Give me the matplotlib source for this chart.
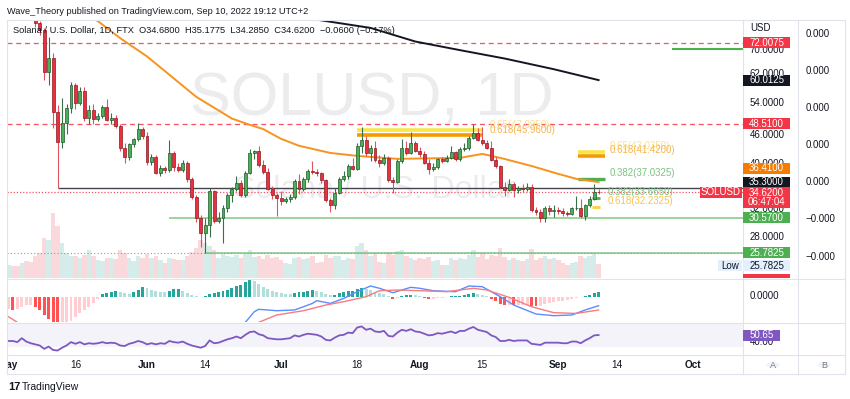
import numpy as np
import pandas as pd
import matplotlib
matplotlib.use("Agg")
import matplotlib.pyplot as plt
import matplotlib.dates as mdates
from matplotlib.patches import Rectangle, Circle
from matplotlib.transforms import Bbox, TransformedBbox

plt.rcParams['font.family'] = ['Liberation Sans', 'DejaVu Sans']

W, H = 850, 399

#Datos diarios SOLUSD (1 may - 10 sep 2022)
dias = pd.date_range('2022-05-01', '2022-09-10', freq='D')

aperturas = [
    88.0, 88.5, 87.5, 85.0, 94.0, 86.0, 82.0, 79.4, 76.8, 62.5, 67.0, 51.3, 44.3, 48.6, 52.3, 58.7,
    53.7, 57.0, 49.8, 51.9, 49.6, 50.3, 52.5, 49.3, 49.8, 48.0, 43.1, 41.1, 43.8, 44.9, 47.3,
    45.7, 40.1, 41.2, 38.1, 39.0, 38.6, 42.0, 39.2, 38.6, 40.0, 36.9, 33.9, 30.5, 28.4, 29.5,
    34.8, 30.1, 30.6, 32.0, 34.1, 35.2, 36.3, 34.1, 38.1, 41.9, 42.3, 39.6, 38.3, 35.2, 34.1,
    33.6, 33.2, 33.5, 33.8, 36.6, 35.2, 36.9, 38.5, 38.2, 38.0, 36.7, 33.3, 32.5, 34.6, 37.0,
    37.6, 39.4, 38.8, 43.5, 44.8, 42.0, 43.0, 40.6, 40.0, 41.0, 36.7, 36.5, 40.4, 43.0, 42.0, 44.0,
    42.5, 41.7, 40.0, 38.8, 39.2, 40.7, 40.4, 41.0, 42.2, 40.8, 42.8, 43.0, 45.3, 46.3, 44.8,
    44.0, 43.0, 40.6, 39.4, 35.6, 35.1, 36.0, 35.1, 35.4, 35.2, 35.5, 31.7, 31.5, 30.5, 32.0, 31.6,
    31.7, 31.6, 31.3, 31.1, 32.0, 32.1, 30.8, 32.5, 33.5, 34.68]
maximos = [
    90.5, 92.0, 89.0, 95.0, 95.0, 87.0, 83.0, 80.0, 77.5, 74.0, 68.5, 53.0, 55.0, 53.5, 59.5, 59.2,
    58.0, 58.0, 53.0, 53.3, 51.0, 53.0, 54.7, 51.0, 50.5, 48.5, 44.0, 44.2, 45.3, 48.6, 47.8,
    46.5, 41.8, 41.5, 39.5, 39.4, 44.8, 42.5, 40.0, 40.5, 40.3, 37.3, 34.2, 31.0, 30.5, 35.3,
    35.0, 31.5, 32.5, 34.5, 35.5, 37.5, 36.8, 38.4, 42.8, 42.6, 43.5, 40.5, 39.0, 35.8, 34.5,
    34.8, 33.9, 34.3, 36.9, 37.8, 37.3, 38.9, 40.3, 38.8, 38.3, 37.0, 33.7, 35.3, 37.4, 38.5,
    39.8, 41.0, 44.2, 47.7, 45.6, 43.6, 44.6, 41.5, 41.8, 41.3, 37.3, 40.8, 45.0, 44.5, 46.5, 44.6,
    43.2, 42.4, 40.8, 40.0, 41.0, 41.1, 41.5, 43.4, 42.5, 43.3, 44.2, 45.6, 48.5, 47.5, 47.7,
    44.7, 44.5, 41.2, 39.6, 36.4, 37.0, 36.5, 35.8, 36.0, 36.3, 36.0, 32.3, 31.9, 32.4, 32.6,
    32.5, 32.2, 32.1, 31.6, 32.2, 34.0, 33.5, 32.7, 34.0, 36.0, 35.1775]
minimos = [
    85.0, 86.0, 84.0, 84.0, 83.0, 80.5, 78.0, 75.0, 60.0, 58.5, 47.5, 35.3, 43.0, 46.0, 51.0, 52.0,
    53.0, 49.2, 48.5, 48.5, 49.0, 49.8, 49.0, 48.3, 47.5, 42.5, 40.0, 40.5, 43.3, 44.5, 45.0,
    39.5, 39.5, 37.8, 37.5, 38.1, 38.3, 38.5, 38.3, 38.3, 36.5, 33.5, 30.0, 26.5, 25.7825, 27.8,
    29.8, 29.8, 27.0, 31.5, 33.0, 34.8, 33.8, 33.9, 37.9, 40.8, 39.3, 37.9, 35.0, 33.5, 30.8,
    32.6, 32.8, 33.1, 33.5, 34.3, 34.8, 36.5, 37.8, 37.6, 36.3, 33.1, 31.5, 31.9, 34.3, 36.6,
    37.0, 38.6, 38.6, 42.0, 41.3, 40.4, 40.2, 39.2, 39.5, 36.4, 34.6, 36.3, 40.0, 41.5, 41.8, 42.2,
    41.2, 39.7, 37.9, 38.4, 38.9, 40.0, 40.1, 40.8, 40.4, 40.3, 42.4, 42.7, 45.0, 44.5, 43.7,
    42.8, 40.3, 39.1, 35.3, 34.0, 34.8, 33.9, 34.5, 34.7, 34.9, 31.5, 31.0, 30.0, 30.0, 31.0,
    30.7, 31.2, 30.9, 30.8, 31.0, 31.7, 30.6, 30.3, 32.2, 33.3, 34.285]
cierres = aperturas[1:] + [34.62]

volumen_m = [
    26, 24, 24, 30, 34, 32, 44, 50, 80, 76, 130, 104, 70, 50, 44, 44, 40, 46, 56, 44, 36, 34, 40, 40,
    38, 56, 50, 40, 34, 44, 40,
    48, 40, 44, 36, 30, 40, 38, 36, 36, 44, 52, 60, 76, 70, 64, 56, 40, 48, 44, 42, 46, 40, 48, 56,
    42, 44, 38, 46, 40, 42,
    36, 30, 28, 40, 42, 38, 40, 44, 30, 32, 46, 40, 44, 44, 36, 40, 38, 64, 70, 56, 44, 50, 32, 30,
    52, 46, 54, 56, 44, 40, 36,
    40, 38, 42, 34, 36, 26, 26, 40, 36, 40, 38, 46, 56, 42, 50, 38, 46, 44, 60, 42, 36, 40, 36, 34,
    38, 58, 36, 40, 44, 38, 40,
    36, 30, 26, 30, 32, 44, 40, 44, 50, 27.3]

macd_hist = [
    -1.2, -1.3, -1.26, -1.0, -0.85, -0.8, -1.0, -1.3, -1.8, -2.2, -2.8, -3.4, -3.2, -2.9, -2.4, -2.0,
    -1.6, -1.3, -1.0, -0.6, -0.2, 0.25, 0.35, 0.45, 0.55, 0.45, 0.35, 0.3, 0.5, 0.7, 0.93,
    0.85, 0.7, 0.6, 0.5, 0.45, 0.6, 0.75, 0.8, 0.6, 0.4, 0.2, 0.05, -0.05, 0.1, 0.3,
    0.35, 0.45, 0.55, 0.7, 0.9, 1.1, 1.2, 1.45, 1.67, 1.55, 1.3, 1.0, 0.8, 0.6, 0.5,
    0.35, 0.3, 0.25, 0.4, 0.45, 0.5, 0.6, 0.65, 0.6, 0.45, 0.25, 0.2, 0.22, 0.35, 0.45,
    0.55, 0.6, 0.8, 0.9, 0.75, 0.65, 0.5, 0.35, 0.25, 0.05, -0.2, -0.1, 0.1, 0.15, 0.2, 0.15,
    0.05, -0.1, -0.25, -0.2, -0.15, -0.1, -0.05, 0.05, 0.05, 0.12, 0.2, 0.3, 0.35, 0.28, 0.2,
    0.05, -0.2, -0.4, -0.7, -0.8, -0.8, -0.85, -0.85, -0.85, -0.8, -0.9, -0.95, -0.9, -0.75, -0.65,
    -0.55, -0.45, -0.4, -0.3, -0.2, -0.12, -0.05, 0.1, 0.2, 0.35, 0.43]

rsi = [
    40, 40, 38, 45, 39, 36, 34, 32, 26, 30, 24, 23, 28, 32, 38, 35, 38, 34, 36, 35, 36, 38, 36, 37,
    36, 32, 31, 35, 37, 40, 38,
    34, 36, 34, 36, 35, 40, 38, 37, 39, 35, 32, 30, 28, 31, 41, 36, 37, 40, 43, 45, 48, 45, 51, 56,
    57, 52, 50, 45, 44, 43,
    43, 44, 45, 50, 48, 51, 53, 52, 51, 48, 42, 41, 46, 50, 51, 55, 54, 64, 66, 60, 62, 57, 56, 58,
    49, 48, 55, 60, 58, 61, 57,
    56, 53, 50, 51, 54, 53, 55, 57, 54, 58, 58, 62, 65, 60, 58, 56, 50, 47, 40, 40, 42, 40, 41, 41,
    41, 35, 34, 33, 37, 37, 37,
    37, 36, 36, 39, 39, 36, 41, 45, 50, 50.65]

#Lineas MACD y senal (vertices leidos)
macd_fechas = ['2022-05-01', '2022-05-15', '2022-06-01', '2022-06-15', '2022-06-23', '2022-06-25',
               '2022-06-26', '2022-06-30', '2022-07-04', '2022-07-08', '2022-07-09', '2022-07-12',
               '2022-07-15', '2022-07-18', '2022-07-21', '2022-07-23', '2022-07-26', '2022-07-30',
               '2022-08-01', '2022-08-04', '2022-08-09', '2022-08-12', '2022-08-15', '2022-08-19',
               '2022-08-22', '2022-08-27', '2022-08-31', '2022-09-04', '2022-09-07', '2022-09-10']
macd_valores = [-3.2, -9.0, -5.0, -4.2, -2.56, -1.5, -1.26, -1.4, -1.33, -0.67, -0.4, -0.67,
                -0.17, 0.5, 1.07, 0.84, 0.4, 0.94, 0.84, 0.6, 0.5, 1.07, 1.0, 0.0,
                -0.83, -1.73, -1.9, -1.83, -1.33, -0.9]
senal_fechas = ['2022-05-01', '2022-05-03', '2022-05-20', '2022-06-10', '2022-06-26', '2022-06-30',
                '2022-07-06', '2022-07-11', '2022-07-15', '2022-07-20', '2022-07-23', '2022-07-27',
                '2022-08-01', '2022-08-07', '2022-08-13', '2022-08-16', '2022-08-21', '2022-08-26',
                '2022-08-31', '2022-09-05', '2022-09-10']
senal_valores = [-2.0, -2.56, -8.0, -5.0, -2.56, -1.83, -1.4, -0.83, -0.5, 0.0, 0.6, 0.67,
                 0.6, 0.5, 0.84, 0.67, -0.07, -1.0, -1.6, -1.67, -1.33]

#Medias moviles (vertices leidos)
ma50_fechas = ['2022-05-08', '2022-05-20', '2022-05-26', '2022-06-01', '2022-06-12', '2022-06-20',
               '2022-06-24', '2022-06-27', '2022-07-01', '2022-07-05', '2022-07-12', '2022-07-18',
               '2022-07-27', '2022-08-10', '2022-08-15', '2022-08-19', '2022-08-26', '2022-09-01',
               '2022-09-05', '2022-09-10']
ma50_valores = [90.0, 81.5, 73.7, 67.4, 55.3, 49.7, 48.2, 47.2, 45.0, 43.5, 42.0, 41.4,
                40.8, 41.0, 41.8, 41.0, 39.4, 37.9, 37.0, 36.41]
ma200_fechas = ['2022-06-20', '2022-07-06', '2022-07-21', '2022-07-31', '2022-08-10', '2022-08-20',
                '2022-08-31', '2022-09-10']
ma200_valores = [87.0, 81.5, 77.5, 72.5, 69.5, 66.7, 63.3, 60.0125]

#Niveles horizontales
nivel_rojo = [72.0075, 48.51]
nivel_negro = 35.30
nivel_verde = [30.57, 25.7825]
nivel_verde_inicio = ['2022-06-05 20:00', '2022-06-14']
precio_actual = 34.62
minimo_visible = 25.7825
rayo_70 = 70.0

#Fibonacci
fib_izq = [47.095, 45.96]
fib_der = [42.25, 41.42]
fib_verde = 37.0325
fib_corto = [33.665, 32.2325]

ticks_precio = [28, 32, 40, 46, 54, 62, 70]
ticks_fecha = ['2022-05-01', '2022-05-16', '2022-06-01', '2022-06-14', '2022-07-01', '2022-07-18',
               '2022-08-01', '2022-08-15', '2022-09-01', '2022-09-14', '2022-10-01']
ticks_texto = ['May', '16', 'Jun', '14', 'Jul', '18', 'Aug', '15', 'Sep', '14', 'Oct']


def caja(x0, y0, x1, y1):
    return [x0 / W, 1 - y1 / H, (x1 - x0) / W, (y1 - y0) / H]


def etiqueta(fig, y, texto, fondo, color='white', x0=743, x1=790, alto=11, size=7):
    fig.add_artist(Rectangle((x0 / W, 1 - (y + alto / 2) / H), (x1 - x0) / W, alto / H,
                             transform=fig.transFigure, facecolor=fondo, edgecolor='none', zorder=5))
    fig.text((x0 + x1) / 2 / W, 1 - y / H, texto, ha='center', va='center', color=color,
             fontsize=size, zorder=6)


def linea_fig(fig, x0, y0, x1, y1, color='#e0e3eb', lw=0.8):
    fig.add_artist(plt.Line2D([x0 / W, x1 / W], [1 - y0 / H, 1 - y1 / H], transform=fig.transFigure,
                              color=color, lw=lw, zorder=4))


def main():
    fig = plt.figure(figsize=(W / 100, H / 100), dpi=100)
    fig.patch.set_facecolor('white')

    x = mdates.date2num(dias)
    o = np.array(aperturas)
    c = np.array(cierres)
    hi = np.array(maximos)
    lo = np.array(minimos)
    x_ini = mdates.date2num(pd.Timestamp('2022-05-01')) - 0.31
    x_fin = mdates.date2num(pd.Timestamp('2022-05-01')) + 164.3

    #Panel de precio
    ax = fig.add_axes(caja(7, 20, 743, 278))

    #Volumen superpuesto (twinx antes de fijar los ticks a la derecha)
    axv = ax.twinx()
    axv.set_ylim(0, 516)
    axv.set_xlim(x_ini, x_fin)
    axv.axis('off')
    verde = c >= o
    col_vol = np.where(verde, '#d5ecea', '#f9d9dc')
    axv.bar(x, volumen_m, width=1.0, color=col_vol, linewidth=0, zorder=1)
    ax.set_zorder(axv.get_zorder() + 1)
    ax.patch.set_visible(False)

    ax.set_yscale('log')
    ax.set_ylim(22.76, 80.56)
    ax.set_xlim(x_ini, x_fin)
    for s in ax.spines.values():
        s.set_visible(False)
    ax.set_xticks([])
    ax.yaxis.set_minor_locator(matplotlib.ticker.NullLocator())
    ax.set_yticks(ticks_precio)
    ax.set_yticklabels(['%.4f' % t for t in ticks_precio])
    ax.yaxis.tick_right()
    ax.tick_params(axis='y', which='both', left=False, right=False, labelleft=False, labelright=True,
                   length=0, pad=5, labelsize=7, labelcolor='#131722')

    #Marca de agua
    ax.text(0.496, 0.69, 'SOLUSD, 1D', transform=ax.transAxes, ha='center', va='center',
            fontsize=44, color='#ececef', zorder=0)
    ax.text(0.5, 0.34, 'Solana / U.S. Dollar', transform=ax.transAxes, ha='center',
            va='center', fontsize=23, color='#ececef', zorder=0)

    #Lineas horizontales
    for v in nivel_rojo:
        ax.axhline(v, color='#f7525f', lw=0.9, ls=(0, (4, 3)), zorder=2)
    ax.hlines(nivel_negro, mdates.date2num(pd.Timestamp('2022-05-12')), x_fin, color='#434651', lw=1, zorder=2)
    for v, ini in zip(nivel_verde, nivel_verde_inicio):
        ax.hlines(v, mdates.date2num(pd.Timestamp(ini)), x_fin, color='#81c784', lw=1.1, zorder=2)
    ax.axhline(precio_actual, color='#f7525f', lw=0.9, ls=(0, (1, 1.5)), zorder=2)
    ax.axhline(minimo_visible, color='#9598a1', lw=0.8, ls=(0, (1, 2)), zorder=2)
    ax.hlines(rayo_70, mdates.date2num(pd.Timestamp('2022-09-26 10:00')), x_fin, color='#4caf50', lw=1.5, zorder=2)

    #Fibonacci
    fi0 = mdates.date2num(pd.Timestamp('2022-07-17 22:00'))
    fi1 = mdates.date2num(pd.Timestamp('2022-08-15 05:00'))
    ax.hlines(fib_izq[0], fi0, fi1, color='#f7e64a', lw=2.6, zorder=2)
    ax.hlines(fib_izq[1], fi0, fi1, color='#f59b00', lw=2.6, zorder=2)
    fd0 = mdates.date2num(pd.Timestamp('2022-09-05 10:00'))
    fd1 = mdates.date2num(pd.Timestamp('2022-09-11 12:00'))
    ax.hlines(fib_der[0], fd0, fd1, color='#f7e64a', lw=2.6, zorder=2)
    ax.hlines(fib_der[1], fd0, fd1, color='#f59b00', lw=2.6, zorder=2)
    ax.hlines(fib_verde, fd0, fd1, color='#4caf50', lw=2.4, zorder=2)
    fc0 = mdates.date2num(pd.Timestamp('2022-09-08 14:00'))
    fc1 = mdates.date2num(pd.Timestamp('2022-09-10 08:00'))
    ax.hlines(fib_corto[0], fc0, fc1, color='#4caf50', lw=2, zorder=2)
    ax.hlines(fib_corto[1], fc0, fc1, color='#fbd13c', lw=2, zorder=2)

    fib_txt = [(fib_izq[0], '0.65(47.0950)', '#fbe38a', fi1 + 1.5, -5),
               (fib_izq[1], '0.618(45.9600)', '#f7b54e', fi1 + 1.5, -5),
               (fib_der[0], '0.65(43.0350)', '#fbe38a', fd1 + 1.0, -6),
               (fib_der[1], '0.618(41.4200)', '#f7b54e', fd1 + 1.0, -6),
               (fib_verde, '0.382(37.0325)', '#7cc47f', fd1 + 1.0, -6),
               (fib_corto[0], '0.382(33.6650)', '#7cc47f', fd1 + 0.5, -6),
               (fib_corto[1], '0.618(32.2325)', '#f7c44e', fd1 + 0.5, -6)]
    for v, t, col, xx, dy in fib_txt:
        ax.annotate(t, (xx, v), xytext=(0, -dy * 0.72), textcoords='offset points',
                    fontsize=7, color=col, ha='left', va='center', zorder=3)

    #Medias moviles
    ax.plot(mdates.date2num(pd.to_datetime(ma50_fechas)), ma50_valores, color='#f7931e', lw=1.4, zorder=3)
    ax.plot(mdates.date2num(pd.to_datetime(ma200_fechas)), ma200_valores, color='#131722', lw=1.4, zorder=3)

    #Velas
    col_mecha = np.where(verde, '#3b6e4a', '#e0535f')
    col_cuerpo = np.where(verde, '#4cae55', '#e8303f')
    col_borde = np.where(verde, '#1e5a2c', '#8c1a24')
    ax.vlines(x, lo, hi, colors=col_mecha, lw=0.8, zorder=4)
    alto = np.maximum(np.abs(c - o), 0.004 * c)
    ax.bar(x, alto, bottom=np.minimum(o, c), width=0.66, color=col_cuerpo, edgecolor=col_borde,
           linewidth=0.5, zorder=5)

    #Panel MACD
    axm = fig.add_axes(caja(7, 279, 743, 322))
    axm.set_xlim(x_ini, x_fin)
    axm.set_ylim(-2.53, 1.77)
    axm.axis('off')
    h = np.array(macd_hist)
    previo = np.concatenate([[h[0]], h[:-1]])
    col_h = np.where(h >= 0, np.where(h >= previo, '#26a69a', '#b2dfdb'),
                     np.where(h < previo, '#ff5252', '#ffcdd2'))
    axm.bar(x, h, width=0.66, color=col_h, linewidth=0)
    axm.plot(mdates.date2num(pd.to_datetime(macd_fechas)), macd_valores, color='#5b8cff', lw=1)
    axm.plot(mdates.date2num(pd.to_datetime(senal_fechas)), senal_valores, color='#f77c80', lw=1)

    #Panel RSI
    axr = fig.add_axes(caja(7, 323, 743, 354))
    axr.set_xlim(x_ini, x_fin)
    axr.set_ylim(16.8, 72.1)
    axr.axis('off')
    axr.axhspan(30, 70, color='#7e57c2', alpha=0.07, lw=0)
    axr.plot(x, rsi, color='#7e57c2', lw=1.3)

    #Etiquetas de fecha
    marco = TransformedBbox(Bbox.from_extents(7 / W, 0, 743 / W, 1), fig.transFigure)
    for f, t in zip(ticks_fecha, ticks_texto):
        negrita = 'bold' if t.isalpha() else 'normal'
        tx = axr.text(mdates.date2num(pd.Timestamp(f)), -0.355, t, transform=axr.get_xaxis_transform(),
                      ha='center', va='center', fontsize=7.2, color='#131722', fontweight=negrita,
                      clip_on=True)
        tx.set_clip_box(marco)

    #Marcos
    linea_fig(fig, 6.5, 19.5, 845, 19.5)
    linea_fig(fig, 6.5, 19.5, 6.5, 374)
    linea_fig(fig, 845, 19.5, 845, 374)
    linea_fig(fig, 6.5, 278.5, 845, 278.5)
    linea_fig(fig, 6.5, 322.5, 845, 322.5)
    linea_fig(fig, 6.5, 354.5, 845, 354.5)
    linea_fig(fig, 6.5, 374, 845, 374)
    linea_fig(fig, 743, 19.5, 743, 374)
    linea_fig(fig, 798, 19.5, 798, 374)

    #Textos superiores
    fig.text(7 / W, 1 - 11 / H, 'Wave_Theory published on TradingView.com, Sep 10, 2022 19:12 UTC+2',
             fontsize=6.6, color='#131722', va='center')
    fig.text(13 / W, 1 - 30.5 / H,
             'Solana / U.S. Dollar, 1D, FTX  O34.6800  H35.1775  L34.2850  C34.6200  \u22120.0600 (\u22120.17%)',
             fontsize=6.7, color='#131722', va='center', zorder=6)
    fig.text(750 / W, 1 - 28 / H, 'USD', fontsize=7, color='#131722', va='center')

    #Etiquetas del eje de precio
    def ypx(v):
        return H - ax.transData.transform((x_ini, v))[1]

    etiqueta(fig, ypx(72.0075), '72.0075', '#f23645')
    etiqueta(fig, ypx(60.0125), '60.0125', '#131722')
    etiqueta(fig, ypx(48.51), '48.5100', '#f23645')
    etiqueta(fig, ypx(36.41) - 14, '36.4100', '#f57c00')
    etiqueta(fig, ypx(35.30) - 6, '35.3000', '#131722')
    etiqueta(fig, ypx(34.62) + 5, '', '#f23645', alto=21)
    fig.text(766.5 / W, 1 - (ypx(34.62) + 0.5) / H, '34.6200', ha='center', va='center', color='white', fontsize=7, zorder=6)
    fig.text(766.5 / W, 1 - (ypx(34.62) + 10) / H, '06:47:04', ha='center', va='center', color='white', fontsize=7, zorder=6)
    etiqueta(fig, ypx(34.62), 'SOLUSD', '#f23645', x0=700, x1=742)
    etiqueta(fig, ypx(30.57), '30.5700', '#4caf50')
    etiqueta(fig, ypx(25.7825), '25.7825', '#4caf50')
    etiqueta(fig, ypx(25.7825) + 13, '25.7825', '#e3effd', color='#131722')
    etiqueta(fig, ypx(25.7825) + 13, 'Low', '#e3effd', color='#131722', x0=718, x1=742)
    fig.add_artist(Rectangle((743 / W, 1 - 278 / H), 47 / W, 4 / H, transform=fig.transFigure,
                             facecolor='#f23645', edgecolor='none', zorder=5))

    #Segundo eje
    for yy, t in [(34, '0.000'), (71, '0.000'), (108, '0.000'), (145, '0.000'), (182, '0.000'),
                  (219, '\u22120.000'), (257, '\u22120.000')]:
        fig.text(806 / W, 1 - yy / H, t, fontsize=7, color='#131722', va='center')

    #MACD y RSI etiquetas
    fig.text(750 / W, 1 - 296 / H, '0.0000', fontsize=7, color='#131722', va='center')
    fig.text(750 / W, 1 - 342 / H, '40.00', fontsize=7, color='#131722', va='center')
    etiqueta(fig, 335, '50.65', '#7e57c2', x1=780)

    #Botones A y B
    for cx, t in [(773, 'A'), (824, 'B')]:
        fig.add_artist(Circle((cx / W, 1 - 365 / H), 6.5 / W, transform=fig.transFigure,
                              facecolor='#f0f3fa', edgecolor='none', zorder=5))
        fig.text(cx / W, 1 - 365 / H, t, ha='center', va='center', fontsize=6.5, color='#787b86', zorder=6)

    #Logo TradingView
    fig.text(8 / W, 1 - 387 / H, '17', fontsize=8, fontweight='bold', color='#131722', va='center')
    fig.text(22 / W, 1 - 387 / H, 'TradingView', fontsize=7.5, color='#131722', va='center')

    fig.savefig('out.png', dpi=100)


if __name__ == "__main__":
    main()
